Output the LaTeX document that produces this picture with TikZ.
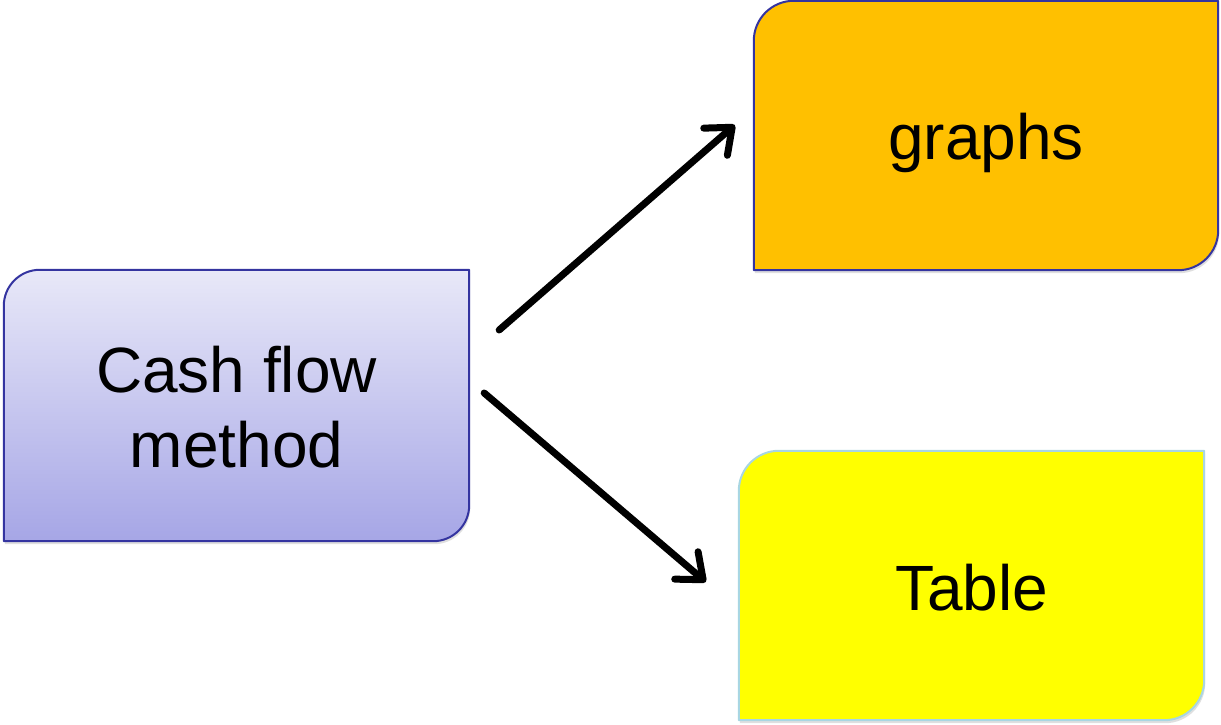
\documentclass[tikz,border=0pt]{standalone}
\usepackage{fontspec}
\setmainfont{Liberation Sans}[Ligatures=NoCommon]
\usetikzlibrary{arrows.meta,shadows,calc}

\definecolor{edgeblue}{RGB}{52,52,160}
\definecolor{edgecyan}{RGB}{168,214,226}
\definecolor{lavtop}{RGB}{232,232,248}
\definecolor{lavbot}{RGB}{166,166,230}
\definecolor{amber}{RGB}{255,192,0}
\definecolor{lemon}{RGB}{255,255,0}

\tikzset{
  boxtext/.style={inner sep=0pt, anchor=base, font=\fontsize{64}{75}\selectfont},
  boxshape/.style={line width=2pt, line join=round,
    drop shadow={opacity=0.25, shadow xshift=1pt, shadow yshift=-3pt}},
  arr/.style={line width=7pt, line cap=round,
    -{Straight Barb[length=22pt, width=36pt, line cap=round, line join=round]}},
}

% rounded corner at top left and bottom right only
\newcommand{\tabbox}[3]{%
  \path[boxshape,#2] ([yshift=-#3]#1.north west) arc[start angle=180, end angle=90, radius=#3]
    -- (#1.north east) -- ([yshift=#3]#1.south east)
    arc[start angle=0, end angle=-90, radius=#3] -- (#1.south west) -- cycle;}

\begin{document}
\begin{tikzpicture}[x=1pt,y=1pt]
  \useasboundingbox (0,0) rectangle (1221,725);

  % box frames
  \path (236.5,319.5) node[minimum width=465pt, minimum height=271pt, inner sep=0pt] (cash) {};
  \path (986,589.5) node[minimum width=464pt, minimum height=269pt, inner sep=0pt] (graphs) {};
  \path (971.5,139.5) node[minimum width=465pt, minimum height=269pt, inner sep=0pt] (table) {};

  \tabbox{cash}{draw=edgeblue, top color=lavtop, bottom color=lavbot}{36pt}
  \tabbox{graphs}{draw=edgeblue, fill=amber}{40pt}
  \tabbox{table}{draw=edgecyan, fill=lemon}{40pt}

  % labels, placed on their baselines
  \node[boxtext] (cashA) at ([yshift=12.5pt]cash.center) {Cash flow};
  \node[boxtext] (cashB) at ([yshift=-62.5pt]cash.center) {method};
  \node[boxtext] (graphsT) at ([yshift=-24.5pt]graphs.center) {graphs};
  \node[boxtext] (tableT) at ([yshift=-25.5pt]table.center) {Table};

  % connectors
  \draw[arr] ([shift={(30,75.5)}]cash.east) -- ([shift={(-19,10.5)}]graphs.west);
  \draw[arr] ([shift={(15,12.5)}]cash.east) -- ([shift={(-33,3.5)}]table.west);
\end{tikzpicture}
\end{document}
